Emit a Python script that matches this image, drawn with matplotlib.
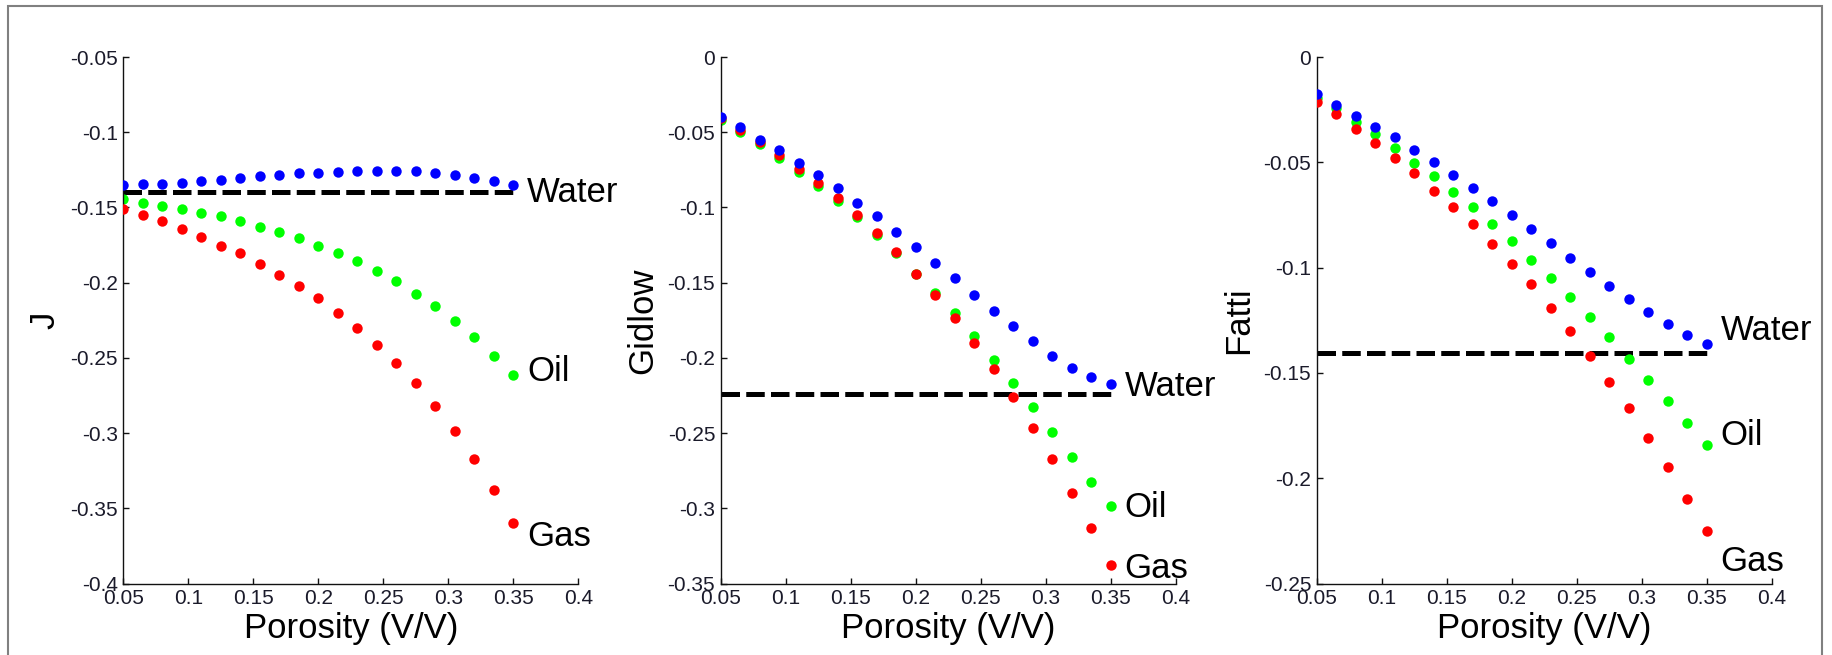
import matplotlib
matplotlib.use("Agg")
import matplotlib.pyplot as plt
from matplotlib.ticker import FuncFormatter, MultipleLocator
from matplotlib.patches import Rectangle

plt.rcParams['font.family'] = ['Liberation Sans', 'DejaVu Sans']
plt.rcParams['axes.unicode_minus'] = False

porosity = [0.05, 0.065, 0.08, 0.095, 0.11, 0.125, 0.14, 0.155, 0.17, 0.185, 0.2,
            0.215, 0.23, 0.245, 0.26, 0.275, 0.29, 0.305, 0.32, 0.335, 0.35]

j_water = [-0.1354, -0.1346, -0.1343, -0.1335, -0.1324, -0.1315, -0.1304, -0.1293, -0.1285,
           -0.1274, -0.1271, -0.1263, -0.1260, -0.1260, -0.1260, -0.1260, -0.1271, -0.1282,
           -0.1304, -0.1324, -0.1354]
j_oil = [-0.1446, -0.1468, -0.1490, -0.1509, -0.1540, -0.1559, -0.1590, -0.1631, -0.1665,
         -0.1703, -0.1756, -0.1806, -0.1856, -0.1920, -0.1992, -0.2075, -0.2158, -0.2255,
         -0.2358, -0.2485, -0.2616]
j_gas = [-0.1509, -0.1551, -0.1593, -0.1642, -0.1695, -0.1756, -0.1806, -0.1878, -0.1950,
         -0.2022, -0.2103, -0.2205, -0.2300, -0.2413, -0.2535, -0.2666, -0.2821, -0.2985,
         -0.3170, -0.3376, -0.3600]
j_cutoff = -0.14

g_water = [-0.0397, -0.0466, -0.0549, -0.0618, -0.0702, -0.0785, -0.0873, -0.0968, -0.1059,
           -0.1162, -0.1264, -0.1367, -0.1470, -0.1583, -0.1686, -0.1789, -0.1891, -0.1985,
           -0.2066, -0.2127, -0.2177]
g_oil = [-0.0416, -0.0496, -0.0580, -0.0671, -0.0763, -0.0857, -0.0959, -0.1065, -0.1184,
         -0.1303, -0.1442, -0.1567, -0.1703, -0.1855, -0.2013, -0.2166, -0.2329, -0.2496,
         -0.2659, -0.2823, -0.2987]
g_gas = [-0.0408, -0.0485, -0.0568, -0.0652, -0.0743, -0.0837, -0.0937, -0.1051, -0.1173,
         -0.1298, -0.1442, -0.1583, -0.1736, -0.1900, -0.2074, -0.2263, -0.2465, -0.2670,
         -0.2898, -0.3131, -0.3378]
g_cutoff = -0.224

f_water = [-0.0178, -0.0228, -0.0279, -0.0331, -0.0382, -0.0442, -0.0499, -0.0561, -0.0624,
           -0.0683, -0.0749, -0.0816, -0.0882, -0.0955, -0.1022, -0.1088, -0.1151, -0.1210,
           -0.1268, -0.1319, -0.1365]
f_oil = [-0.0194, -0.0244, -0.0307, -0.0366, -0.0432, -0.0501, -0.0565, -0.0640, -0.0711,
         -0.0794, -0.0874, -0.0963, -0.1050, -0.1139, -0.1234, -0.1329, -0.1432, -0.1533,
         -0.1634, -0.1739, -0.1842]
f_gas = [-0.0214, -0.0271, -0.0341, -0.0406, -0.0479, -0.0553, -0.0634, -0.0713, -0.0794,
         -0.0889, -0.0985, -0.1080, -0.1191, -0.1302, -0.1420, -0.1541, -0.1668, -0.1807,
         -0.1945, -0.2100, -0.2252]
f_cutoff = -0.1405

panel_names = ["J", "Gidlow", "Fatti"]
ylims = [(-0.4, -0.05), (-0.35, 0.0), (-0.25, 0.0)]
label_names = ["Water", "Oil", "Gas"]
label_y = [(-0.140, -0.259, -0.369), (-0.219, -0.2995, -0.3397), (-0.1298, -0.1797, -0.2397)]
label_x = 0.3605

fig = plt.figure(figsize=(18.33, 6.55), dpi=100)
lefts = [0.06727, 0.39318, 0.71833]
panels = [(j_water, j_oil, j_gas, j_cutoff),
          (g_water, g_oil, g_gas, g_cutoff),
          (f_water, f_oil, f_gas, f_cutoff)]

fmt = FuncFormatter(lambda v, p: ('%g' % round(v, 4)))

for i, (w, o, g, c) in enumerate(panels):
    ax = fig.add_axes([lefts[i], 0.10916, 0.24823, 0.8038])
    ax.plot([porosity[0], porosity[-1]], [c, c], color='black', lw=3.6,
            dashes=(3.7, 1.25), solid_capstyle='butt', dash_capstyle='butt', zorder=1)
    ax.plot(porosity, o, 'o', color='#00ff00', ms=7.5, mew=0, zorder=2)
    ax.plot(porosity, g, 'o', color='#ff0000', ms=7.5, mew=0, zorder=3)
    ax.plot(porosity, w, 'o', color='#0000ff', ms=7.5, mew=0, zorder=4)
    ax.set_xlim(0.05, 0.4)
    ax.set_ylim(*ylims[i])
    ax.xaxis.set_major_locator(MultipleLocator(0.05))
    ax.yaxis.set_major_locator(MultipleLocator(0.05))
    ax.xaxis.set_major_formatter(fmt)
    ax.yaxis.set_major_formatter(fmt)
    for s in ['top', 'right']:
        ax.spines[s].set_visible(False)
    for s in ['left', 'bottom']:
        ax.spines[s].set_linewidth(1.0)
        ax.spines[s].set_color('#111111')
    ax.tick_params(direction='in', length=4, width=1.0, color='#111111',
                   labelsize=15, labelcolor='#1a1a2a')
    ax.tick_params(axis='x', pad=4)
    ax.tick_params(axis='y', pad=4)
    ax.set_xlabel("Porosity (V/V)", fontsize=25, labelpad=3)
    ax.set_ylabel(panel_names[i], fontsize=25, labelpad=6)
    for name, yv in zip(label_names, label_y[i]):
        ax.text(label_x, yv, name, fontsize=25, ha='left', va='center', clip_on=False)

frame = Rectangle((8.5 / 1833, -0.05), (1822.5 - 8.5) / 1833, 1 - 6 / 655 + 0.05,
                  transform=fig.transFigure, fill=False, edgecolor='#808080', lw=1.5,
                  clip_on=False)
fig.patches.append(frame)

fig.savefig("out.png", dpi=100, facecolor='white')
